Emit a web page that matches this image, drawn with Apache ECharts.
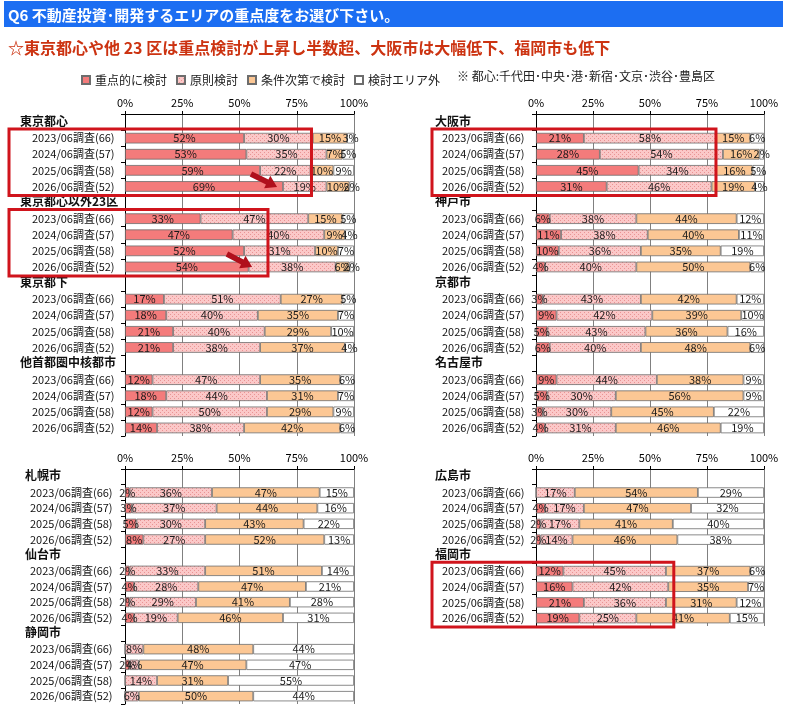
<!DOCTYPE html>
<html>
<head>
<meta charset="utf-8">
<script src="https://cdn.jsdelivr.net/npm/echarts@6/dist/echarts.min.js"></script>
<style>
  html, body { margin: 0; padding: 0; background: #fff; }
  #chart { width: 787px; height: 715px; }
</style>
</head>
<body>
<div id="chart"></div>
<script>
const years = ['2023/06調査(66)', '2024/06調査(57)', '2025/06調査(58)', '2026/06調査(52)']
const seriesNames = ['重点的に検討', '原則検討', '条件次第で検討', '検討エリア外']

// each row: 重点的に検討, 原則検討, 条件次第で検討, 検討エリア外 (%)
const tokyoCenter = [[52, 30, 15, 3], [53, 35, 7, 5], [59, 22, 10, 9], [69, 19, 10, 2]]
const tokyoOther23 = [[33, 47, 15, 5], [47, 40, 9, 4], [52, 31, 10, 7], [54, 38, 6, 2]]
const tokyoTama = [[17, 51, 27, 5], [18, 40, 35, 7], [21, 40, 29, 10], [21, 38, 37, 4]]
const otherMetro = [[12, 47, 35, 6], [18, 44, 31, 7], [12, 50, 29, 9], [14, 38, 42, 6]]
const osaka = [[21, 58, 15, 6], [28, 54, 16, 2], [45, 34, 16, 5], [31, 46, 19, 4]]
const kobe = [[6, 38, 44, 12], [11, 38, 40, 11], [10, 36, 35, 19], [4, 40, 50, 6]]
const kyoto = [[3, 43, 42, 12], [9, 42, 39, 10], [5, 43, 36, 16], [6, 40, 48, 6]]
const nagoya = [[9, 44, 38, 9], [5, 30, 56, 9], [3, 30, 45, 22], [4, 31, 46, 19]]
const sapporo = [[2, 36, 47, 15], [3, 37, 44, 16], [5, 30, 43, 22], [8, 27, 52, 13]]
const sendai = [[2, 33, 51, 14], [4, 28, 47, 21], [2, 29, 41, 28], [4, 19, 46, 31]]
const shizuoka = [[0, 8, 48, 44], [2, 4, 47, 47], [0, 14, 31, 55], [0, 6, 50, 44]]
const hiroshima = [[0, 17, 54, 29], [4, 17, 47, 32], [2, 17, 41, 40], [2, 14, 46, 38]]
const fukuoka = [[12, 45, 37, 6], [16, 42, 35, 7], [21, 36, 31, 12], [19, 25, 41, 15]]

const panels = [
  [['東京都心', tokyoCenter], ['東京都心以外23区', tokyoOther23], ['東京都下', tokyoTama], ['他首都圏中核都市', otherMetro]],
  [['大阪市', osaka], ['神戸市', kobe], ['京都市', kyoto], ['名古屋市', nagoya]],
  [['札幌市', sapporo], ['仙台市', sendai], ['静岡市', shizuoka]],
  [['広島市', hiroshima], ['福岡市', fukuoka]]
]

const FONT = '"Noto Sans CJK JP", "Noto Sans", sans-serif'

const grids = [
  { left: 125, top: 114, width: 229, height: 322 },
  { left: 536, top: 114, width: 228, height: 322 },
  { left: 125, top: 469, width: 229, height: 235 },
  { left: 536, top: 469, width: 228, height: 157 }
]
// [label margin, indent of year rows]
const labelOffsets = [[105, 12], [101, 7], [100, 5], [101, 7]]

function dotPattern() {
  const c = document.createElement('canvas')
  c.width = 4
  c.height = 4
  const ctx = c.getContext('2d')
  ctx.fillStyle = '#fbc8c8'
  ctx.fillRect(0, 0, 4, 4)
  ctx.fillStyle = '#e99494'
  ctx.fillRect(0, 0, 1, 1)
  ctx.fillRect(2, 2, 1, 1)
  return c
}
const fills = ['#f47b7b', { image: dotPattern(), repeat: 'repeat' }, '#fcc794', '#ffffff']

const xAxes = []
const yAxes = []
const series = []

panels.forEach((panel, g) => {
  const cats = []
  const rows = []
  panel.forEach(([name, data]) => {
    cats.push(name)
    rows.push(null)
    years.forEach((y, i) => {
      cats.push(name + '#' + y)
      rows.push(data[i])
    })
  })
  xAxes.push({
    type: 'value', gridIndex: g, position: 'top', min: 0, max: 100, interval: 25,
    axisLine: { show: true, lineStyle: { color: '#000' } },
    axisTick: { show: true, length: 3, lineStyle: { color: '#000' } },
    axisLabel: { formatter: '{value}%', fontSize: 11, color: '#000', margin: 6, fontFamily: FONT },
    splitLine: { show: true, lineStyle: { color: '#808080', width: 1 } }
  })
  yAxes.push({
    type: 'category', gridIndex: g, inverse: true, data: cats,
    axisLine: { show: true, lineStyle: { color: '#000' } },
    axisTick: { show: true, length: 4, interval: 0, lineStyle: { color: '#000' } },
    axisLabel: {
      interval: 0, align: 'left', margin: labelOffsets[g][0],
      formatter: v => {
        const parts = v.split('#')
        return parts[1] ? '{y|' + parts[1] + '}' : '{h|' + parts[0] + '}'
      },
      rich: {
        h: { fontSize: 12, fontWeight: 'bold', color: '#111', fontFamily: FONT, padding: [0, 0, 2, 0] },
        y: { fontSize: 11, color: '#111', fontFamily: FONT, padding: [0, 0, 0, labelOffsets[g][1]] }
      }
    }
  })
  seriesNames.forEach((sn, k) => {
    series.push({
      type: 'bar', name: sn, stack: 'p' + g, xAxisIndex: g, yAxisIndex: g,
      barCategoryGap: '34%',
      data: rows.map(r => (r ? r[k] : '-')),
      itemStyle: { color: fills[k], borderColor: '#6d6d6d', borderWidth: 0.8 },
      label: {
        show: true, position: 'inside', fontSize: 11, color: '#1a1a1a', fontFamily: FONT,
        formatter: p => (p.value > 0 ? p.value + '%' : '')
      },
      emphasis: { disabled: true },
      animation: false
    })
  })
})

const chart = echarts.init(document.getElementById('chart'))
chart.setOption({
  animation: false,
  textStyle: { fontFamily: FONT },
  legend: {
    data: seriesNames, left: 76, top: 69, icon: 'rect', itemWidth: 8, itemHeight: 8, itemGap: 9,
    selectedMode: false,
    textStyle: { fontSize: 12, color: '#222', fontFamily: FONT }
  },
  grid: grids,
  xAxis: xAxes,
  yAxis: yAxes,
  series: series
})

// annotation: red boxes and arrows, positioned from the axes
function toPx(g, xv, row) {
  const a = chart.convertToPixel({ gridIndex: g }, [xv, 0])
  const b = chart.convertToPixel({ gridIndex: g }, [xv, 1])
  return [a[0], a[1] + (b[1] - a[1]) * row, b[1] - a[1]]
}

const boxes = [
  { g: 0, from: 1, to: 4, left: 9, xEnd: 81 },
  { g: 0, from: 6, to: 9, left: 9, xEnd: 62 },
  { g: 1, from: 1, to: 4, left: 432, xEnd: 78.5 },
  { g: 3, from: 6, to: 9, left: 432, xEnd: 60 }
]
const arrows = [
  { g: 0, from: [55, 3.23], to: [66.4, 4.03] },
  { g: 0, from: [44.5, 8.2], to: [55.5, 9.0] }
]

const elements = [
  { type: 'rect', shape: { x: 4, y: 1, width: 779, height: 26 }, style: { fill: '#1c6ef2' }, z: 10 },
  { type: 'text', x: 8, y: 15, z: 11, style: { text: 'Q6 不動産投資･開発するエリアの重点度をお選び下さい。', fill: '#fff', fontSize: 15, fontWeight: 'bold', fontFamily: FONT, verticalAlign: 'middle' } },
  { type: 'text', x: 8, y: 48, z: 11, style: { text: '☆東京都心や他 23 区は重点検討が上昇し半数超、大阪市は大幅低下、福岡市も低下', fill: '#cc3311', fontSize: 16, fontWeight: 'bold', fontFamily: FONT, verticalAlign: 'middle' } },
  { type: 'text', x: 457, y: 76, z: 11, style: { text: '※ 都心:千代田･中央･港･新宿･文京･渋谷･豊島区', fill: '#222', fontSize: 12, fontFamily: FONT, verticalAlign: 'middle' } }
]

boxes.forEach(b => {
  const top = toPx(b.g, b.xEnd, b.from)
  const bot = toPx(b.g, b.xEnd, b.to)
  const half = top[2] / 2
  const y0 = top[1] - half - 1
  const y1 = bot[1] + half + 1
  elements.push({
    type: 'rect', z: 20,
    shape: { x: b.left, y: y0, width: top[0] + 1 - b.left, height: y1 - y0 },
    style: { fill: 'none', stroke: '#d0141c', lineWidth: 3 }
  })
})

arrows.forEach(a => {
  const t = toPx(a.g, a.from[0], a.from[1])
  const p = toPx(a.g, a.to[0], a.to[1])
  const len = Math.hypot(p[0] - t[0], p[1] - t[1])
  const d = [(p[0] - t[0]) / len, (p[1] - t[1]) / len]
  const n = [-d[1], d[0]]
  const w = 2.8, hw = 7, hl = 11
  const b = [p[0] - d[0] * hl, p[1] - d[1] * hl]
  const pts = [
    [t[0] + n[0] * w, t[1] + n[1] * w],
    [b[0] + n[0] * w, b[1] + n[1] * w],
    [b[0] + n[0] * hw, b[1] + n[1] * hw],
    [p[0], p[1]],
    [b[0] - n[0] * hw, b[1] - n[1] * hw],
    [b[0] - n[0] * w, b[1] - n[1] * w],
    [t[0] - n[0] * w, t[1] - n[1] * w]
  ]
  elements.push({ type: 'polygon', z: 21, shape: { points: pts }, style: { fill: '#b0101c' } })
})

chart.setOption({ graphic: elements })
</script>
</body>
</html>
